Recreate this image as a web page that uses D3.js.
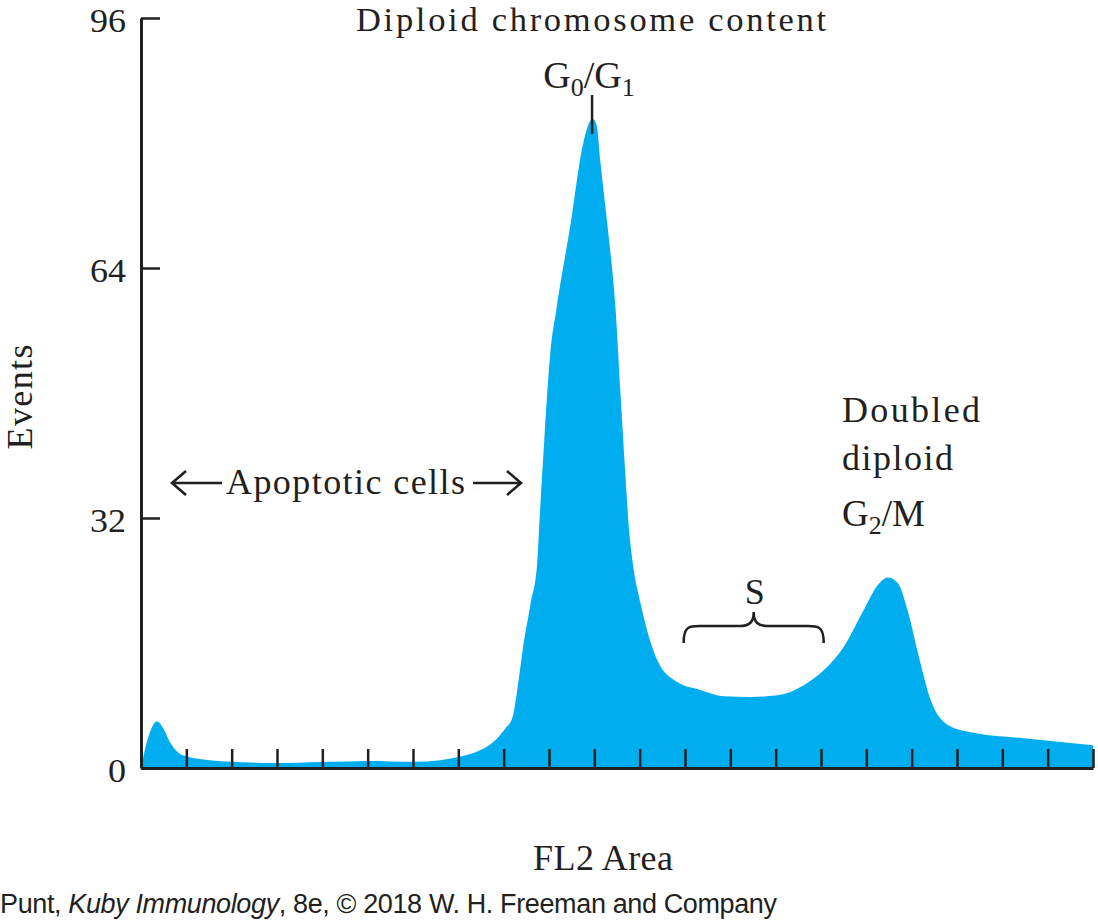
<!DOCTYPE html>
<html>
<head>
<meta charset="utf-8">
<script src="https://cdn.jsdelivr.net/npm/d3@7"></script>
<style>
  html, body { margin: 0; padding: 0; background: #fff; }
  svg { display: block; }
  .serif { font-family: "Liberation Serif", "Times New Roman", serif; fill: #231f20; }
</style>
</head>
<body>
<svg id="chart" width="1098" height="923"></svg>
<script>
// ---- data ----
// FL2 Area position in tick units (0..21)
const fl2 = [0, 0.11, 0.24, 0.35, 0.49, 0.64, 0.82, 0.99, 1.52, 1.99, 2.98, 3.97, 5.01, 6.01, 6.60, 7.0, 7.49, 7.82, 8.04, 8.19, 8.30, 8.43, 8.59, 8.74, 8.79, 8.90, 9.03, 9.16, 9.47, 9.76, 9.96, 10.05, 10.13, 10.29, 10.47, 10.58, 10.69, 10.75, 10.84, 11.02, 11.39, 11.83, 12.34, 12.85, 13.45, 14.04, 14.62, 15.06, 15.50, 15.94, 16.25, 16.47, 16.69, 16.91, 17.14, 17.42, 17.80, 18.37, 19.47, 21.0];
// Events (counts)
const events = [0, 2.9, 5.2, 6.0, 5.1, 3.3, 2.0, 1.5, 1.0, 0.8, 0.64, 0.77, 0.9, 0.8, 1.0, 1.4, 2.3, 3.6, 5.1, 6.4, 10.0, 15.5, 20.9, 26.2, 31.6, 42.4, 53.2, 58.6, 69.4, 80.1, 83.1, 82.3, 77.8, 69.4, 58.6, 47.7, 37.0, 31.6, 26.6, 21.1, 13.8, 11.0, 10.0, 9.2, 9.1, 9.3, 10.6, 12.5, 15.5, 20.2, 23.4, 24.4, 23.7, 20.2, 14.7, 8.7, 5.5, 4.5, 3.8, 2.9];
const yTickValues = [0, 32, 64, 96];
const xTickValues = [1, 2, 3, 4, 5, 6, 7, 8, 9, 10, 11, 12, 13, 14, 15, 16, 17, 18, 19, 20, 21];

const title = "Diploid chromosome content";
const yLabel = "Events";
const xLabel = "FL2 Area";
const credit = ["Punt, ", "Kuby Immunology", ", 8e, \u00A9 2018 W. H. Freeman and Company"];

// ---- layout ----
const svg = d3.select("#chart");
const pLeft = 141, pRight = 1093, pTop = 18, pBottom = 768;
const x = d3.scaleLinear().domain([0, 21]).range([pLeft, pRight]);
const y = d3.scaleLinear().domain([0, 96]).range([pBottom, pTop]);
const ink = "#231f20";
const cyan = "#00aeef";

const pts = fl2.map((v, i) => ({ x: v, y: events[i] }));

// filled histogram
const area = d3.area()
  .x(d => x(d.x))
  .y0(y(0))
  .y1(d => y(d.y))
  .curve(d3.curveMonotoneX);
svg.append("path").datum(pts).attr("d", area).attr("fill", cyan);

// x axis (ticks pointing inward)
const xAxis = d3.axisBottom(x).tickValues(xTickValues).tickSizeInner(-19).tickSizeOuter(0).tickFormat("");
const gx = svg.append("g").attr("transform", `translate(0,${pBottom})`).call(xAxis);
gx.select(".domain").attr("stroke", ink).attr("stroke-width", 3);
gx.selectAll(".tick line").attr("stroke", ink).attr("stroke-width", 2.5);

// y axis
const yAxis = d3.axisLeft(y).tickValues(yTickValues).tickSizeInner(-19).tickSizeOuter(0).tickPadding(15);
const gy = svg.append("g").attr("transform", `translate(${pLeft},0)`).call(yAxis);
gy.select(".domain").attr("stroke", ink).attr("stroke-width", 3);
gy.selectAll(".tick line").attr("stroke", ink).attr("stroke-width", 2.5);
gy.selectAll(".tick text")
  .attr("class", "serif")
  .attr("font-size", 34.5)
  .attr("fill", ink)
  .attr("textLength", 36).attr("lengthAdjust", "spacingAndGlyphs")
  .attr("dy", "0.38em");
gy.selectAll(".tick text").filter(d => d === 0).attr("textLength", 18);

// axis labels
svg.append("text").attr("class", "serif")
  .attr("transform", `translate(32,397) rotate(-90)`)
  .attr("text-anchor", "middle").attr("font-size", 36)
  .attr("textLength", 105).attr("lengthAdjust", "spacing")
  .text(yLabel);

svg.append("text").attr("class", "serif")
  .attr("x", 603).attr("y", 870)
  .attr("text-anchor", "middle").attr("font-size", 36)
  .attr("textLength", 140).attr("lengthAdjust", "spacing")
  .text(xLabel);

// title
svg.append("text").attr("class", "serif")
  .attr("x", 591).attr("y", 31)
  .attr("text-anchor", "middle").attr("font-size", 34.5)
  .attr("textLength", 470).attr("lengthAdjust", "spacing")
  .text(title);

// G0/G1 label + marker
const peakX = x(9.95);
const g01 = svg.append("text").attr("class", "serif")
  .attr("x", peakX - 3).attr("y", 88).attr("text-anchor", "middle").attr("font-size", 38);
g01.append("tspan").text("G");
g01.append("tspan").attr("font-size", 26).attr("dy", 8).text("0");
g01.append("tspan").attr("dy", -8).text("/G");
g01.append("tspan").attr("font-size", 26).attr("dy", 8).text("1");
svg.append("line").attr("x1", peakX).attr("x2", peakX).attr("y1", 95).attr("y2", 134)
  .attr("stroke", ink).attr("stroke-width", 2.5);

// Apoptotic cells with arrows
const arrowY = 483;
svg.append("text").attr("class", "serif")
  .attr("x", 226).attr("y", 494).attr("font-size", 36)
  .attr("textLength", 239).attr("lengthAdjust", "spacing")
  .text("Apoptotic cells");
const arrowG = svg.append("g").attr("stroke", ink).attr("stroke-width", 2.6).attr("fill", "none")
  .attr("stroke-linecap", "butt").attr("stroke-linejoin", "miter");
// left arrow
arrowG.append("line").attr("x1", 172).attr("x2", 222).attr("y1", arrowY).attr("y2", arrowY);
arrowG.append("path").attr("d", `M${186},${arrowY - 12} L${172},${arrowY} L${186},${arrowY + 12}`);
// right arrow
arrowG.append("line").attr("x1", 473).attr("x2", 521).attr("y1", arrowY).attr("y2", arrowY);
arrowG.append("path").attr("d", `M${507},${arrowY - 12} L${521},${arrowY} L${507},${arrowY + 12}`);

// Doubled diploid G2/M
svg.append("text").attr("class", "serif").attr("x", 842).attr("y", 422).attr("font-size", 36)
  .attr("textLength", 138).attr("lengthAdjust", "spacing").text("Doubled");
svg.append("text").attr("class", "serif").attr("x", 842).attr("y", 470).attr("font-size", 36)
  .attr("textLength", 111).attr("lengthAdjust", "spacing").text("diploid");
const g2m = svg.append("text").attr("class", "serif").attr("x", 842).attr("y", 526).attr("font-size", 37);
g2m.append("tspan").text("G");
g2m.append("tspan").attr("font-size", 26).attr("dy", 8).text("2");
g2m.append("tspan").attr("dy", -8).text("/M");

// S bracket
const bx0 = x(11.97), bx1 = x(15.06), bm = (bx0 + bx1) / 2;
const bTop = 626, bEnd = 643, bCusp = 612;
svg.append("path")
  .attr("d", `M${bx0},${bEnd} C${bx0},${bTop} ${bx0 + 6},${bTop} ${bx0 + 16},${bTop}
              L${bm - 14},${bTop} C${bm - 4},${bTop} ${bm},${bTop - 4} ${bm},${bCusp}
              C${bm},${bTop - 4} ${bm + 4},${bTop} ${bm + 14},${bTop}
              L${bx1 - 16},${bTop} C${bx1 - 6},${bTop} ${bx1},${bTop} ${bx1},${bEnd}`)
  .attr("fill", "none").attr("stroke", ink).attr("stroke-width", 2.5);
svg.append("text").attr("class", "serif").attr("x", bm + 1).attr("y", 604)
  .attr("text-anchor", "middle").attr("font-size", 36).text("S");

// credit line
const cr = svg.append("text").attr("x", 0).attr("y", 913)
  .attr("font-family", "'Liberation Sans', Arial, sans-serif").attr("font-size", 27).attr("fill", ink)
  .attr("textLength", 777).attr("lengthAdjust", "spacing");
cr.append("tspan").text(credit[0]);
cr.append("tspan").attr("font-style", "italic").text(credit[1]);
cr.append("tspan").text(credit[2]);
</script>
</body>
</html>
